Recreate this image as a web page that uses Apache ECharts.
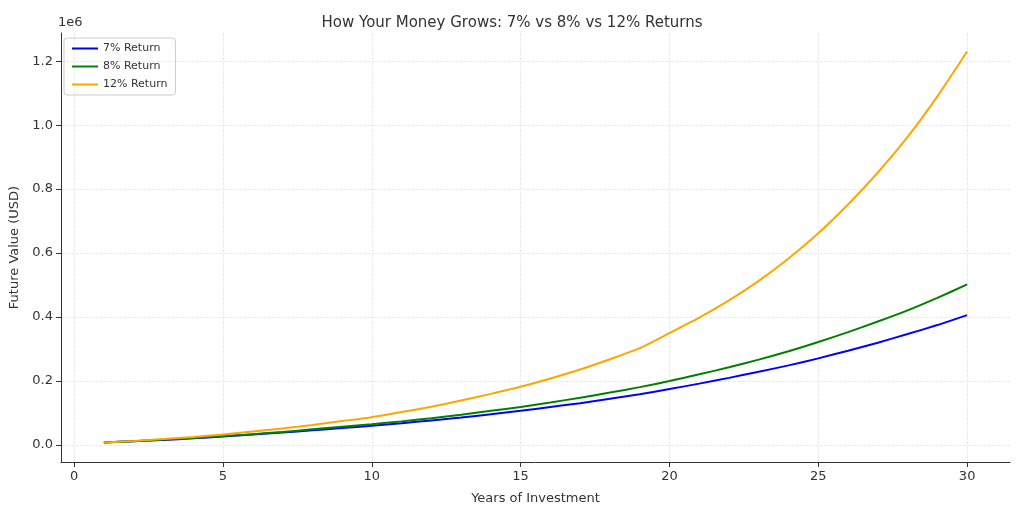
<!DOCTYPE html>
<html lang="en">
<head>
    <meta charset="UTF-8">
    <title>Money Grows</title>
    <style>
        * { padding: 0; margin: 0; }
        body { background: #fff; }
        .chart { width: 1024px; height: 512px; }
    </style>
</head>
<body>
    <div id="main" class="chart"></div>
</body>
</html>
<script src="https://cdn.jsdelivr.net/npm/echarts@6/dist/echarts.min.js"></script>
<script>
    // years and values (USD)
    var years = [];
    for (var y = 1; y <= 30; y++) years.push(y);
    var r7 = [8000, 12000, 16000, 21000, 27000, 33000, 39000, 46000, 53000, 60000,
        68000, 77000, 86000, 96000, 107000, 119000, 131000, 145000, 159000, 175000,
        192000, 210000, 229000, 249000, 271000, 295000, 320000, 347000, 375000, 406000];
    var r8 = [8000, 12000, 17000, 22000, 28000, 34000, 41000, 49000, 57000, 65000,
        74000, 84000, 95000, 107000, 119000, 133000, 148000, 164000, 181000, 200000,
        221000, 243000, 267000, 293000, 322000, 353000, 386000, 421000, 460000, 502000];
    var r12 = [8000, 13000, 19000, 25000, 33000, 42000, 52000, 63000, 75000, 87000,
        103000, 120000, 139000, 160000, 182000, 208000, 236000, 268000, 303000, 350000,
        398000, 452000, 513000, 583000, 662000, 752000, 852000, 963000, 1090000, 1230000];
    var xTicks = [0, 5, 10, 15, 20, 25, 30];
    var yTicks = [0, 200000, 400000, 600000, 800000, 1000000, 1200000];

    function pairs(vals) {
        return years.map(function (yr, i) { return [yr, vals[i]]; });
    }

    var gridLine = { show: true, lineStyle: { color: '#e3e3e3', type: 'dashed', width: 0.8 } };
    var font = 'DejaVu Sans';
    var myChart = echarts.init(document.getElementById('main'));
    var option = {
        animation: false,
        textStyle: { fontFamily: font },
        title: {
            text: 'How Your Money Grows: 7% vs 8% vs 12% Returns',
            left: 'center', top: 11,
            textStyle: { fontSize: 15, fontWeight: 'normal', color: '#333', fontFamily: font }
        },
        legend: {
            orient: 'vertical', left: 64, top: 38,
            itemWidth: 26, itemHeight: 2, itemGap: 7,
            borderColor: '#ccc', borderWidth: 1, borderRadius: 3, padding: [5, 8],
            textStyle: { fontSize: 11, color: '#333' },
            icon: 'rect',
            data: ['7% Return', '8% Return', '12% Return']
        },
        graphic: [{ type: 'text', left: 58, top: 16, style: { text: '1e6', fontSize: 13, fill: '#333', fontFamily: font } }],
        grid: { left: 58, right: 14, top: 33, bottom: 50 },
        xAxis: {
            type: 'value', min: -0.44, max: 31.44,
            name: 'Years of Investment', nameLocation: 'middle', nameGap: 30,
            nameTextStyle: { fontSize: 13, color: '#333' },
            axisLine: { onZero: false, lineStyle: { color: '#333' } },
            axisTick: { show: true, customValues: xTicks, lineStyle: { color: '#333' } },
            axisLabel: { customValues: xTicks, fontSize: 13, color: '#333' },
            splitLine: gridLine
        },
        yAxis: {
            type: 'value', min: -53000, max: 1288000,
            name: 'Future Value (USD)', nameLocation: 'middle', nameGap: 40,
            nameTextStyle: { fontSize: 13, color: '#333' },
            axisLine: { show: true, onZero: false, lineStyle: { color: '#333' } },
            axisTick: { show: true, customValues: yTicks, lineStyle: { color: '#333' } },
            axisLabel: {
                customValues: yTicks, fontSize: 13, color: '#333',
                formatter: function (v) { return (v / 1e6).toFixed(1); }
            },
            splitLine: gridLine
        },
        series: [
            { name: '7% Return', type: 'line', data: pairs(r7), showSymbol: false, smooth: 0.2, color: '#0000ff', lineStyle: { width: 2 } },
            { name: '8% Return', type: 'line', data: pairs(r8), showSymbol: false, smooth: 0.2, color: '#008000', lineStyle: { width: 2 } },
            { name: '12% Return', type: 'line', data: pairs(r12), showSymbol: false, smooth: 0.2, color: '#ffa500', lineStyle: { width: 2 } }
        ]
    };
    myChart.setOption(option);
</script>
